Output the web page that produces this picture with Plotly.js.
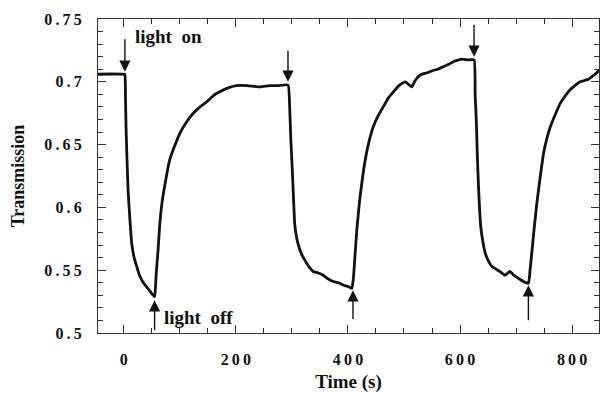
<!DOCTYPE html>
<html>
<head>
<meta charset="utf-8">
<script src="https://cdn.plot.ly/plotly-3.0.1.min.js"></script>
<style>html,body{margin:0;padding:0;background:#fff;}#chart{width:603px;height:401px;}</style>
</head>
<body>
<div id="chart"></div>
<script>
// ---- data ----
var timeS = [-46,-20,0,2,3,4,6,8,11,14,18,23,28,35,42,49,55,57,58,61,64,68,73,82,90,100,112,124,136,148,160,171,185,201,220,243,260,275,293,
  296,298,301,305,308,311,317,323,330,338,346,356,365,374,383,392,400,407,410,412.5,416,421,427,433,439,445,454,463,472,481,491,502,508,514,520,529,540,552,560,570,580,588,595,603,615,625,
  627,629,631,633,637,641,645,651,657,664,671,680,689,696,704,713,722,725,728,732,737,743,749,755,761,770,779,788,796,805,814,822,829,838,848];
var transmission = [0.706,0.7062,0.706,0.706,0.690,0.664,0.635,0.611,0.590,0.572,0.561,0.553,0.546,0.540,0.536,0.532,0.529,0.540,0.548,0.565,0.585,0.603,0.617,0.638,0.648,0.659,0.668,0.675,0.680,0.684,0.689,0.692,0.695,0.697,0.697,0.696,0.697,0.697,0.6975,
  0.680,0.655,0.627,0.587,0.577,0.571,0.563,0.558,0.553,0.549,0.548,0.546,0.543,0.541,0.540,0.538,0.537,0.5356,0.545,0.561,0.583,0.606,0.627,0.643,0.655,0.664,0.673,0.680,0.687,0.692,0.697,0.700,0.698,0.696,0.701,0.7054,0.707,0.709,0.710,0.712,0.714,0.716,0.717,0.718,0.7175,0.7175,
  0.690,0.670,0.640,0.6165,0.5846,0.572,0.5635,0.557,0.553,0.551,0.549,0.546,0.549,0.546,0.5436,0.541,0.5396,0.550,0.5635,0.582,0.603,0.624,0.643,0.655,0.664,0.674,0.683,0.689,0.6935,0.697,0.700,0.701,0.702,0.705,0.709];

// arrows: tip (x,y) and tail (ax,ay), in data units
var arrowX    = [2, 55, 293, 409, 625, 722];
var arrowTipY = [0.708, 0.526, 0.700, 0.534, 0.720, 0.538];
var arrowTailY= [0.735, 0.501, 0.726, 0.510, 0.7466, 0.509];

var labelTexts = ["light\u00a0\u00a0on", "light\u00a0\u00a0off"];
var labelX = [17, 69];
var labelY = [0.7357, 0.512];

var xTickVals = [0, 200, 400, 600, 800];
var xTickText = ["0", "200", "400", "600", "800"];
var yTickVals = [0.5, 0.55, 0.6, 0.65, 0.7, 0.75];
var yTickText = ["0.5", "0.55", "0.6", "0.65", "0.7", "0.75"];

function spaced(s){ return s.split('').join('\u2009'); }

var FONT = "Liberation Serif, Times New Roman, serif";

var annotations = [];
for (var i = 0; i < arrowX.length; i++) {
  annotations.push({
    x: arrowX[i], y: arrowTipY[i], ax: arrowX[i], ay: arrowTailY[i],
    xref: 'x', yref: 'y', axref: 'x', ayref: 'y',
    text: '', showarrow: true, arrowhead: 2, arrowsize: 1.6, arrowwidth: 1.4, arrowcolor: '#111'
  });
}
for (var j = 0; j < labelTexts.length; j++) {
  annotations.push({
    x: labelX[j], y: labelY[j], xref: 'x', yref: 'y', text: labelTexts[j],
    showarrow: false, xanchor: 'left', yanchor: 'middle',
    font: {family: FONT, size: 19, color: '#111', weight: 700}
  });
}

var trace = {
  x: timeS, y: transmission, type: 'scatter', mode: 'lines',
  line: {color: '#111', width: 2.8, shape: 'spline', smoothing: 0.4},
  hoverinfo: 'skip'
};

var axisCommon = {
  showgrid: false, zeroline: false, showline: true, linecolor: '#333', linewidth: 1,
  mirror: 'allticks', ticks: 'inside', ticklen: 8, tickwidth: 1, tickcolor: '#333',
  tickfont: {family: FONT, size: 16, color: '#111', weight: 700},
  automargin: false
};

var layout = {
  width: 603, height: 401,
  margin: {l: 98, r: 4, t: 19, b: 68},
  paper_bgcolor: '#fff', plot_bgcolor: '#fff',
  showlegend: false,
  xaxis: Object.assign({}, axisCommon, {
    range: [-46, 848], tickmode: 'array', tickvals: xTickVals, ticktext: xTickText.map(spaced),
    minor: {dtick: 50, tick0: 0, ticks: 'inside', ticklen: 5, tickcolor: '#333', tickwidth: 1},
    ticklabelstandoff: 12,
    title: {text: 'Time (s)', font: {family: FONT, size: 19, color: '#111', weight: 700}, standoff: 7}
  }),
  yaxis: Object.assign({}, axisCommon, {
    range: [0.5, 0.75], tickmode: 'array', tickvals: yTickVals, ticktext: yTickText.map(spaced),
    minor: {dtick: 0.01, tick0: 0.5, ticks: 'inside', ticklen: 5, tickcolor: '#333', tickwidth: 1},
    ticklabelstandoff: 12,
    title: {text: 'Transmission', font: {family: FONT, size: 18, color: '#111', weight: 700}, standoff: 14}
  }),
  annotations: annotations
};

Plotly.newPlot('chart', [trace], layout, {displayModeBar: false, staticPlot: true});
</script>
</body>
</html>
